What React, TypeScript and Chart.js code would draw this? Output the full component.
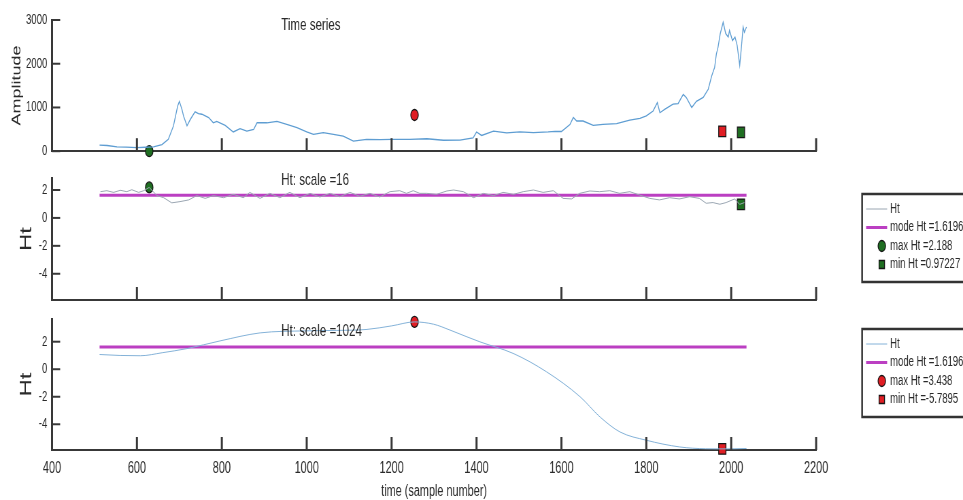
import React, { useEffect, useRef } from 'react';
import { Chart, registerables } from 'chart.js';

Chart.register(...registerables);

// ---------- data ----------
const X_TICKS = [400, 600, 800, 1000, 1200, 1400, 1600, 1800, 2000, 2200];
const AMP_TICKS = [0, 1000, 2000, 3000];
const HT_TICKS = [-4, -2, 0, 2];

const TS_X = [512, 530, 553, 575, 600, 620, 639, 659, 674, 686, 696, 700, 706, 710, 718, 726, 737, 745, 753, 769, 780, 788, 808, 827, 843, 859, 875, 883, 906, 930, 953, 977, 1000, 1016, 1039, 1063, 1086, 1110, 1141, 1173, 1200, 1243, 1283, 1322, 1361, 1392, 1400, 1412, 1440, 1471, 1502, 1534, 1569, 1585, 1600, 1620, 1628, 1636, 1651, 1675, 1698, 1730, 1761, 1785, 1800, 1816, 1826, 1832, 1844, 1863, 1875, 1887, 1894, 1907, 1918, 1934, 1946, 1954, 1961, 1965, 1969, 1974, 1981, 1987, 1993, 1996, 2003, 2009, 2014, 2020, 2024, 2028, 2031, 2036];
const TS_Y = [138, 130, 100, 95, 80, 90, 100, 150, 270, 575, 1035, 1140, 960, 800, 580, 730, 900, 860, 845, 770, 650, 680, 590, 440, 515, 460, 500, 650, 650, 680, 615, 540, 440, 385, 425, 385, 345, 230, 270, 265, 270, 270, 285, 250, 255, 305, 440, 360, 460, 420, 440, 425, 440, 455, 450, 610, 770, 690, 690, 590, 615, 630, 710, 750, 810, 920, 1110, 880, 960, 1075, 1090, 1300, 1230, 1000, 1140, 1230, 1420, 1720, 1920, 2220, 2380, 2680, 2950, 2690, 2610, 2760, 2530, 2610, 2420, 1960, 2380, 2840, 2720, 2840];

// markers shown on the time-series panel
const TS_MARK_X = [629, 1254, 1979, 2023];
const TS_MARK_Y = [0, 828, 453, 430];

const H16_X = [514, 529, 545, 561, 576, 588, 604, 616, 629, 647, 663, 682, 702, 722, 741, 761, 780, 804, 827, 851, 866, 890, 913, 937, 960, 984, 1008, 1031, 1055, 1078, 1102, 1125, 1149, 1172, 1196, 1219, 1235, 1251, 1266, 1283, 1306, 1330, 1346, 1369, 1393, 1416, 1440, 1463, 1487, 1510, 1534, 1557, 1581, 1604, 1624, 1643, 1667, 1690, 1714, 1737, 1761, 1784, 1808, 1831, 1855, 1878, 1902, 1925, 1941, 1957, 1973, 1988, 2008, 2020, 2031];
const H16_Y = [1.88, 1.95, 1.83, 1.98, 1.88, 2.02, 1.83, 1.95, 2.188, 1.6, 1.45, 1.08, 1.17, 1.29, 1.6, 1.4, 1.6, 1.45, 1.69, 1.45, 1.83, 1.4, 1.76, 1.45, 1.83, 1.45, 1.76, 1.5, 1.76, 1.52, 1.83, 1.55, 1.76, 1.5, 1.88, 1.95, 1.76, 1.95, 1.76, 1.76, 1.69, 1.93, 2.0, 1.88, 1.45, 1.76, 1.6, 1.83, 1.69, 1.88, 2.0, 1.83, 1.95, 1.4, 1.36, 1.76, 1.93, 1.88, 1.95, 1.76, 1.88, 1.64, 1.4, 1.29, 1.45, 1.36, 1.52, 1.4, 1.05, 1.1, 0.98, 1.1, 1.36, 0.97227, 1.1];

const H1024_X = [512, 560, 608, 660, 718, 796, 890, 1000, 1070, 1141, 1200, 1254, 1299, 1338, 1377, 1408, 1487, 1565, 1644, 1691, 1738, 1800, 1879, 1940, 1979, 2036];
const H1024_Y = [1.07, 1.0, 0.98, 1.2, 1.5, 2.06, 2.64, 2.79, 2.82, 2.89, 3.15, 3.438, 3.27, 2.84, 2.36, 1.99, 1.14, -0.19, -2.0, -3.47, -4.56, -5.16, -5.65, -5.78, -5.7895, -5.76];

const MODE_HT = 1.6196;
const MODE_X = [512, 2036];

const MAX16 = { x: 629, y: 2.188 };
const MIN16 = { x: 2023, y: 0.97227 };
const MAX1024 = { x: 1254, y: 3.438 };
const MIN1024 = { x: 1979, y: -5.7895 };

const LEG16_LABELS = ['Ht', 'mode Ht =1.6196', 'max Ht =2.188', 'min Ht =0.97227'];
const LEG1024_LABELS = ['Ht', 'mode Ht =1.6196', 'max Ht =3.438', 'min Ht =-5.7895'];

const PANEL_TITLES = ['Time series', 'Ht: scale =16', 'Ht: scale =1024'];
const PANEL_TITLE_X = 940;
const PANEL_TITLE_Y = [2875, 2.71, 2.78];

// ---------- styling ----------
const FONT = "'Liberation Sans', Arial, Helvetica, sans-serif";
const SX = 0.68; // horizontal squeeze of the whole figure
const LW = Math.round(963 / SX);
const PLOT_LEFT = 52 / SX;
const PLOT_RIGHT = 816 / SX;
const AXIS = '#383838';
const TXT = '#2a2a2a';
const C_TS = '#5e9dd2';
const C_H16 = '#9aa6b2';
const C_H1024 = '#84b2d8';
const C_MODE = '#bb3fc2';
const C_GREEN = '#1f6e22';
const C_RED = '#e01e24';
const EDGE = '#151515';

const xy = (xs: number[], ys: number[]) => xs.map((x, i) => ({ x, y: ys[i] }));

const lineDs = (label: string, data: any[], color: string, width: number, extra: any = {}) => ({
  label, data, showLine: true, borderColor: color, backgroundColor: color, borderWidth: width,
  pointRadius: 0, pointHoverRadius: 0, ...extra,
});
const markDs = (label: string, pt: any, color: string, style: string) => ({
  label, data: [pt], showLine: false, pointStyle: style,
  pointRadius: style === 'rect' ? 7.5 : 5.5, pointHoverRadius: style === 'rect' ? 7.5 : 5.5,
  backgroundColor: color, borderColor: EDGE, borderWidth: 1.3, clip: false,
});

type PanelSpec = {
  height: number; padTop: number; xAxisH: number; yMin: number; yMax: number; yTicks: number[];
  yTitle: string; yTitleSize: number; yTitlePad: number; showX: boolean; title: string; titleY: number;
  datasets: any[]; legendTop: number | null;
};

const noPad = (s: any) => {
  s.paddingTop = 0; s.paddingBottom = 0; s.paddingLeft = 0; s.paddingRight = 0;
};

const decor = (p: PanelSpec) => ({
  id: 'decor',
  afterDraw(chart: any) {
    const ctx = chart.ctx;
    const { left, bottom } = chart.chartArea;
    const xs = chart.scales.x;
    const ys = chart.scales.y;
    ctx.save();
    ctx.strokeStyle = AXIS;
    ctx.lineWidth = 3;
    for (const v of X_TICKS) {
      const px = xs.getPixelForValue(v);
      if (px <= left + 1) continue;
      ctx.beginPath(); ctx.moveTo(px, bottom); ctx.lineTo(px, bottom - 13); ctx.stroke();
    }
    ctx.lineWidth = 2;
    for (const v of p.yTicks) {
      const py = ys.getPixelForValue(v);
      ctx.beginPath(); ctx.moveTo(left, py); ctx.lineTo(left + 12, py); ctx.stroke();
    }
    ctx.fillStyle = TXT;
    ctx.font = `17px ${FONT}`;
    ctx.textAlign = 'left';
    ctx.textBaseline = 'middle';
    ctx.fillText(p.title, xs.getPixelForValue(PANEL_TITLE_X), ys.getPixelForValue(p.titleY));

    if (p.legendTop !== null) {
      const bx = 862 / SX;
      const by = p.legendTop;
      const bh = 88;
      ctx.fillStyle = '#ffffff';
      ctx.fillRect(bx, by, 400, bh);
      ctx.strokeStyle = '#333';
      ctx.lineWidth = 2.5;
      ctx.strokeRect(bx, by, 400, bh);
      const rows = [15, 33.5, 52, 70.5];
      const x1 = 866 / SX, x2 = 887 / SX, mx = 881.7 / SX, tx = 890 / SX;
      chart.data.datasets.forEach((ds: any, i: number) => {
        const y = by + rows[i];
        if (ds.showLine) {
          ctx.strokeStyle = ds.borderColor; ctx.lineWidth = ds.borderWidth;
          ctx.beginPath(); ctx.moveTo(x1, y); ctx.lineTo(x2, y); ctx.stroke();
        } else {
          ctx.fillStyle = ds.backgroundColor; ctx.strokeStyle = EDGE; ctx.lineWidth = 1.3;
          ctx.beginPath();
          if (ds.pointStyle === 'rect') ctx.rect(mx - 4, y - 4, 8, 8);
          else ctx.arc(mx, y, 5.5, 0, Math.PI * 2);
          ctx.fill(); ctx.stroke();
        }
        ctx.fillStyle = TXT;
        ctx.font = `14px ${FONT}`;
        ctx.textAlign = 'left';
        ctx.textBaseline = 'middle';
        ctx.fillText(ds.label, tx, y);
      });
    }
    ctx.restore();
  },
});

const makeConfig = (p: PanelSpec): any => ({
  type: 'scatter',
  data: { datasets: p.datasets },
  options: {
    responsive: false,
    animation: false,
    devicePixelRatio: 1,
    events: [],
    layout: { padding: { left: 0, right: LW - PLOT_RIGHT, top: p.padTop, bottom: 0 } },
    plugins: { legend: { display: false }, tooltip: { enabled: false } },
    scales: {
      x: {
        type: 'linear', min: 400, max: 2200,
        afterBuildTicks: (s: any) => { s.ticks = X_TICKS.map((v) => ({ value: v })); },
        afterFit: (s: any) => { s.height = p.xAxisH; noPad(s); },
        grid: { display: false, drawTicks: false },
        border: { display: true, color: AXIS, width: 2 },
        ticks: {
          display: p.showX, padding: 9, autoSkip: false, maxRotation: 0, color: TXT,
          font: { family: FONT, size: 16 }, callback: (v: any) => String(v),
        },
        title: {
          display: p.showX, text: 'time (sample number)', color: TXT,
          font: { family: FONT, size: 16, lineHeight: 1 }, padding: { top: 0, bottom: 0 },
        },
      },
      y: {
        type: 'linear', min: p.yMin, max: p.yMax,
        afterBuildTicks: (s: any) => { s.ticks = p.yTicks.map((v) => ({ value: v })); },
        afterFit: (s: any) => { s.width = PLOT_LEFT; noPad(s); },
        grid: { display: false, drawTicks: false },
        border: { display: true, color: AXIS, width: 3 },
        ticks: { padding: 7, color: TXT, font: { family: FONT, size: 14 }, callback: (v: any) => String(v) },
        title: {
          display: true, text: p.yTitle, color: TXT,
          font: { family: FONT, size: p.yTitleSize, lineHeight: 1 }, padding: { top: p.yTitlePad, bottom: 0 },
        },
      },
    },
  },
  plugins: [decor(p)],
});

const PANELS: { top: number; spec: PanelSpec }[] = [
  {
    top: 0,
    spec: {
      height: 160, padTop: 20, xAxisH: 8, yMin: 0, yMax: 3000, yTicks: AMP_TICKS,
      yTitle: 'Amplitude', yTitleSize: 18, yTitlePad: 16, showX: false,
      title: PANEL_TITLES[0], titleY: PANEL_TITLE_Y[0], legendTop: null,
      datasets: [
        lineDs('Time series', xy(TS_X, TS_Y), C_TS, 1.3),
        markDs('max16', { x: TS_MARK_X[0], y: TS_MARK_Y[0] }, C_GREEN, 'circle'),
        markDs('max1024', { x: TS_MARK_X[1], y: TS_MARK_Y[1] }, C_RED, 'circle'),
        markDs('min1024', { x: TS_MARK_X[2], y: TS_MARK_Y[2] }, C_RED, 'rect'),
        markDs('min16', { x: TS_MARK_X[3], y: TS_MARK_Y[3] }, C_GREEN, 'rect'),
      ],
    },
  },
  {
    top: 160,
    spec: {
      height: 150, padTop: 18, xAxisH: 10, yMin: -5.88, yMax: 2.86, yTicks: HT_TICKS,
      yTitle: 'Ht', yTitleSize: 24, yTitlePad: 27, showX: false,
      title: PANEL_TITLES[1], titleY: PANEL_TITLE_Y[1], legendTop: 34,
      datasets: [
        lineDs(LEG16_LABELS[0], xy(H16_X, H16_Y), C_H16, 1),
        lineDs(LEG16_LABELS[1], xy(MODE_X, [MODE_HT, MODE_HT]), C_MODE, 3),
        markDs(LEG16_LABELS[2], MAX16, C_GREEN, 'circle'),
        markDs(LEG16_LABELS[3], MIN16, C_GREEN, 'rect'),
      ],
    },
  },
  {
    top: 310,
    spec: {
      height: 190, padTop: 9, xAxisH: 50, yMin: -5.87, yMax: 3.65, yTicks: HT_TICKS,
      yTitle: 'Ht', yTitleSize: 24, yTitlePad: 27, showX: true,
      title: PANEL_TITLES[2], titleY: PANEL_TITLE_Y[2], legendTop: 19,
      datasets: [
        lineDs(LEG1024_LABELS[0], xy(H1024_X, H1024_Y), C_H1024, 1, { cubicInterpolationMode: 'monotone' }),
        lineDs(LEG1024_LABELS[1], xy(MODE_X, [MODE_HT, MODE_HT]), C_MODE, 3),
        markDs(LEG1024_LABELS[2], MAX1024, C_RED, 'circle'),
        markDs(LEG1024_LABELS[3], MIN1024, C_RED, 'rect'),
      ],
    },
  },
];

function Panel({ top, spec }: { top: number; spec: PanelSpec }) {
  const ref = useRef<HTMLCanvasElement | null>(null);
  useEffect(() => {
    if (!ref.current) return;
    const chart = new Chart(ref.current, makeConfig(spec));
    return () => chart.destroy();
  }, []);
  return (
    <div
      style={{
        position: 'absolute', left: 0, top, width: LW, height: spec.height,
        transform: `scaleX(${963 / LW})`, transformOrigin: '0 0',
      }}
    >
      <canvas ref={ref} width={LW} height={spec.height} style={{ display: 'block' }} />
    </div>
  );
}

export default function App() {
  return (
    <div
      style={{
        position: 'absolute', left: 0, top: 0, width: 963, height: 500,
        overflow: 'hidden', background: '#ffffff',
      }}
    >
      {PANELS.map((p, i) => (
        <Panel key={i} top={p.top} spec={p.spec} />
      ))}
    </div>
  );
}
